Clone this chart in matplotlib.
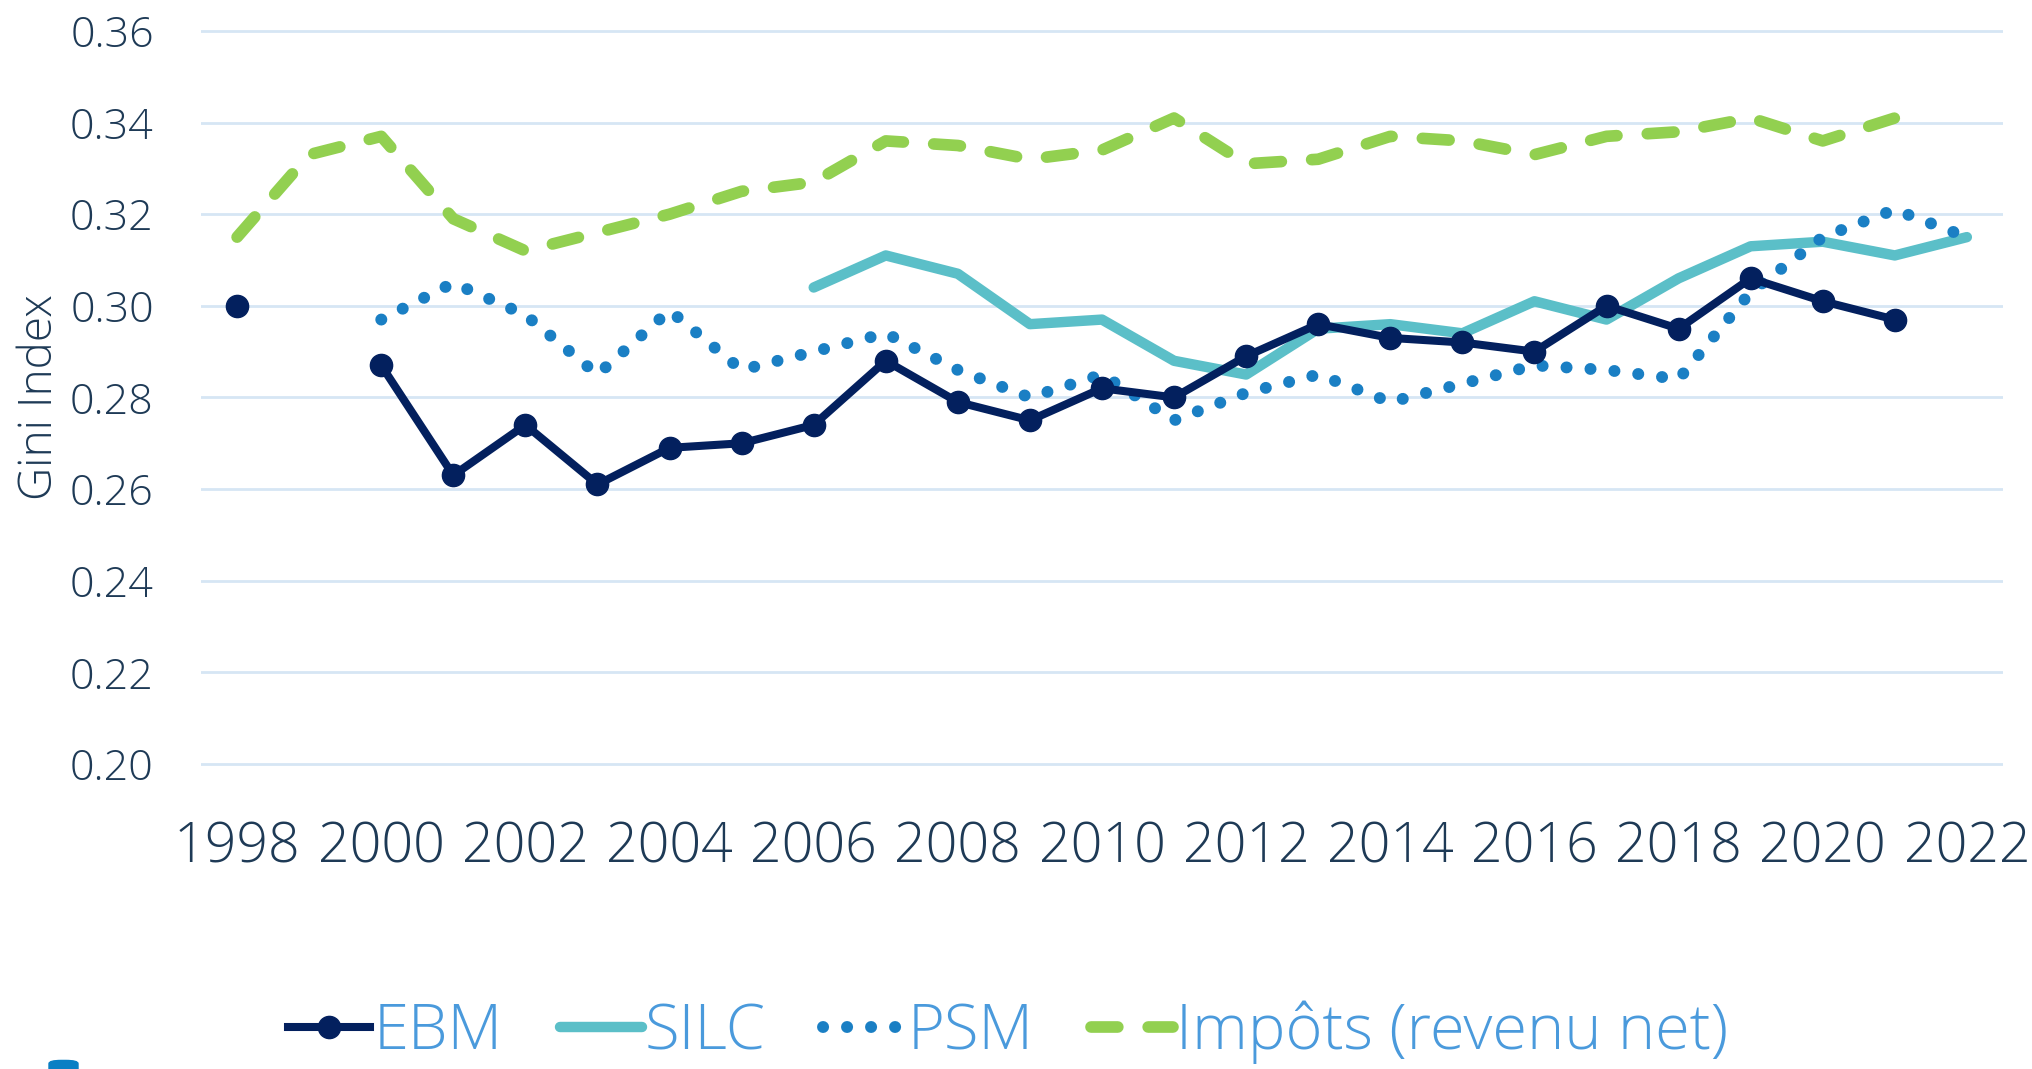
import matplotlib
matplotlib.use("Agg")
import matplotlib.pyplot as plt
from matplotlib.patches import FancyBboxPatch

plt.rcParams['font.family'] = ['Open Sans', 'DejaVu Sans']

# ------------------ Données ------------------
annees_ebm = [1998, 2000, 2001, 2002, 2003, 2004, 2005, 2006, 2007, 2008, 2009, 2010,
              2011, 2012, 2013, 2014, 2015, 2016, 2017, 2018, 2019, 2020, 2021]
ebm = [0.300, 0.287, 0.263, 0.274, 0.261, 0.269, 0.270, 0.274, 0.288, 0.279, 0.275, 0.282,
       0.280, 0.289, 0.296, 0.293, 0.292, 0.290, 0.300, 0.295, 0.306, 0.301, 0.297]

annees_silc = list(range(2006, 2023))
silc = [0.304, 0.311, 0.307, 0.296, 0.297, 0.288, 0.285, 0.295, 0.296, 0.294, 0.301,
        0.297, 0.306, 0.313, 0.314, 0.311, 0.315]

annees_psm = list(range(2000, 2023))
psm = [0.297, 0.305, 0.298, 0.285, 0.299, 0.286, 0.290, 0.294, 0.286, 0.280, 0.285,
       0.275, 0.281, 0.285, 0.279, 0.283, 0.287, 0.286, 0.284, 0.303, 0.315, 0.321, 0.315]

annees_impots = list(range(1998, 2022))
impots = [0.315, 0.333, 0.337, 0.319, 0.312, 0.316, 0.320, 0.325, 0.327, 0.336, 0.335,
          0.332, 0.334, 0.341, 0.331, 0.332, 0.337, 0.336, 0.333, 0.337, 0.338, 0.341,
          0.336, 0.341]

xticks = list(range(1998, 2023, 2))
yticks = [0.20, 0.22, 0.24, 0.26, 0.28, 0.30, 0.32, 0.34, 0.36]

# ------------------ Couleurs ------------------
c_ebm = '#03205E'
c_silc = '#5BBFC8'
c_psm = '#1A7FC4'
c_impots = '#92D050'
c_texte = '#1E3A56'
c_legende = '#4A9ADC'
c_grille = '#D6E6F4'

# ------------------ Graphique ------------------
fig = plt.figure(figsize=(20.33, 10.69), dpi=100)
ax = fig.add_axes([0.0989, 0.2768, 0.8863, 0.7028])

ax.plot(annees_impots, impots, color=c_impots, lw=8.4, linestyle=(0, (2.3, 2.6)),
        dash_capstyle='round', solid_joinstyle='miter', label='Impôts (revenu net)', zorder=2)
ax.plot(annees_silc, silc, color=c_silc, lw=7.5, solid_capstyle='round', label='SILC', zorder=3)
ax.plot(annees_psm, psm, color=c_psm, lw=8.6, linestyle=(0, (0.01, 2.0)),
        dash_capstyle='round', label='PSM', zorder=4)
# EBM: 1999 manquant -> tracer 1998 seul, puis le reste
ax.plot(annees_ebm[:1], ebm[:1], color=c_ebm, lw=0, marker='o', markersize=16, zorder=5)
ax.plot(annees_ebm[1:], ebm[1:], color=c_ebm, lw=5.8, marker='o', markersize=16,
        label='EBM', zorder=5)

ax.set_xlim(1997.5, 2022.5)
ax.set_ylim(0.198, 0.362)
ax.set_xticks(xticks)
ax.set_yticks(yticks)
ax.set_yticklabels([f'{v:.2f}' for v in yticks])
ax.tick_params(axis='y', length=0, pad=34, labelsize=31, labelcolor=c_texte)
ax.tick_params(axis='x', length=0, pad=34, labelsize=40, labelcolor=c_texte)
for lab in ax.get_xticklabels() + ax.get_yticklabels():
    lab.set_fontweight('light')

ax.grid(axis='y', color=c_grille, lw=2)
ax.set_axisbelow(True)
for s in ax.spines.values():
    s.set_visible(False)

ax.set_ylabel('Gini Index', fontsize=33, color=c_texte, fontweight='light', labelpad=5)

handles, labels = ax.get_legend_handles_labels()
ordre = ['EBM', 'SILC', 'PSM', 'Impôts (revenu net)']
h = [handles[labels.index(n)] for n in ordre]
fig.legend(h, ordre, loc='center', bbox_to_anchor=(0.496, 0.034), ncol=4,
           frameon=False, labelcolor=c_legende, handlelength=1.3,
           handletextpad=0.05, columnspacing=0.9, numpoints=1,
           prop={'size': 45.5, 'weight': 'light'})

# petit logo coupé en bas à gauche
fig.patches.append(FancyBboxPatch((49 / 2033, -0.005), 29 / 2033, 0.013,
                                  boxstyle='round,pad=0,rounding_size=0.006',
                                  transform=fig.transFigure, color='#0A7FC4',
                                  mutation_aspect=0.5))

fig.savefig('out.png', dpi=100)
